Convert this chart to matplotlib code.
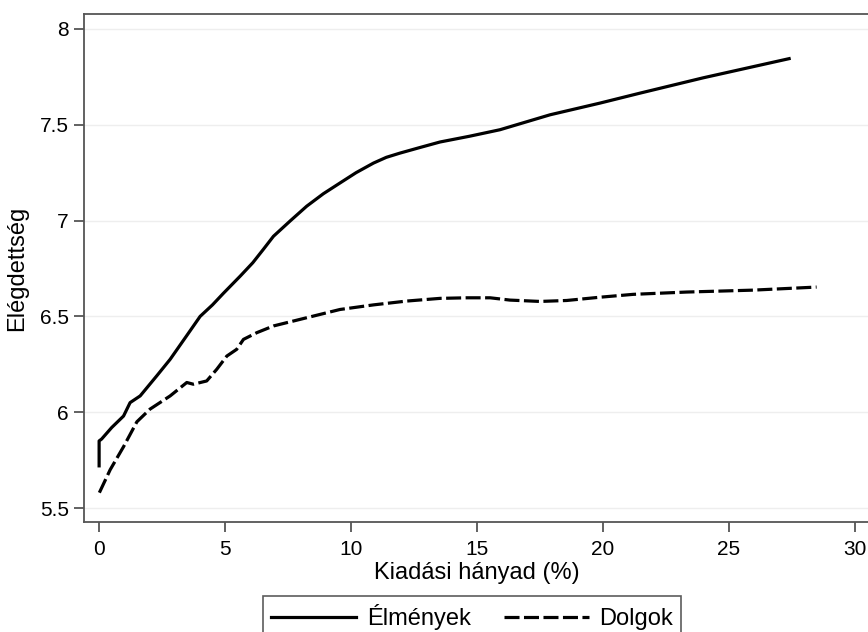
"""Elégdettség vs. kiadási hányad: élmények és dolgok"""
import matplotlib
matplotlib.use("Agg")
from matplotlib import pyplot as plt

elmeny_x = [0, 0, 0.1, 0.5, 0.97, 1.23, 1.63, 2.29, 2.82, 3.48, 4.01, 4.5, 4.93,
            5.6, 6.1, 6.52, 6.92, 7.6, 8.24, 8.9, 9.56, 10.2, 10.89, 11.4,
            11.94, 12.7, 13.53, 14.7, 15.91, 17.9, 19.88, 21.47, 23.98, 27.39]
elmeny_y = [5.72, 5.85, 5.86, 5.92, 5.98, 6.05, 6.085, 6.19, 6.276, 6.40, 6.50,
            6.56, 6.62, 6.71, 6.78, 6.85, 6.918, 7.0, 7.075, 7.14, 7.196, 7.25,
            7.30, 7.33, 7.352, 7.38, 7.41, 7.44, 7.474, 7.552, 7.613, 7.665,
            7.745, 7.845]

dolog_x = [0.01, 0.44, 0.97, 1.5, 2.02, 2.82, 3.48, 3.74, 4.27, 4.67, 5.07, 5.46,
           5.73, 6.26, 6.92, 8.24, 9.56, 10.89, 12.21, 13.53, 14.59, 15.52,
           16.31, 17.5, 18.56, 19.88, 21.2, 23.32, 25.96, 28.48]
dolog_y = [5.58, 5.70, 5.82, 5.95, 6.016, 6.085, 6.155, 6.146, 6.163, 6.224,
           6.293, 6.328, 6.38, 6.415, 6.45, 6.493, 6.536, 6.56, 6.58, 6.594,
           6.597, 6.597, 6.585, 6.578, 6.583, 6.60, 6.615, 6.627, 6.637, 6.653]

x_ticks = [0, 5, 10, 15, 20, 25, 30]
y_ticks = [5.5, 6, 6.5, 7, 7.5, 8]
y_ticklabels = ["5.5", "6", "6.5", "7", "7.5", "8"]

plt.rcParams["font.family"] = ["Liberation Sans", "DejaVu Sans"]

fig = plt.figure(figsize=(8.68, 6.32), dpi=100)
ax = fig.add_axes([84 / 868, 1 - 522 / 632, 786 / 868, 508 / 632])

ax.plot(elmeny_x, elmeny_y, color="black", linewidth=2.3,
        solid_joinstyle="round", label="Élmények")
line, = ax.plot(dolog_x, dolog_y, color="black", linewidth=2.3,
                label="Dolgok")
line.set_dashes((4.7, 1.4))

ax.set_xlim(-0.6, 30.6)
ax.set_ylim(5.427, 8.078)
ax.set_xticks(x_ticks)
ax.set_yticks(y_ticks)
ax.set_yticklabels(y_ticklabels)
ax.tick_params(axis="both", length=7, width=1.3, color="#555555",
               labelsize=15)
ax.tick_params(axis="x", pad=6)
ax.tick_params(axis="y", pad=4)
ax.grid(axis="y", color="#eeeeee", linewidth=1)
ax.set_axisbelow(True)
for s in ax.spines.values():
    s.set_color("#555555")
    s.set_linewidth(1.3)

ax.set_xlabel("Kiadási hányad (%)", fontsize=17, labelpad=2)
ax.set_ylabel("Elégdettség", fontsize=17, labelpad=8)

leg = ax.legend(loc="upper center", bbox_to_anchor=(472 / 868, 1 - 596 / 632),
                bbox_transform=fig.transFigure, ncol=2, frameon=True,
                fancybox=False, fontsize=17, handlelength=3.6,
                handletextpad=0.45, columnspacing=1.4, borderpad=0.35,
                borderaxespad=0)
leg.get_frame().set_edgecolor("#333333")
leg.get_frame().set_linewidth(1.2)

fig.savefig("out.png", dpi=100)
